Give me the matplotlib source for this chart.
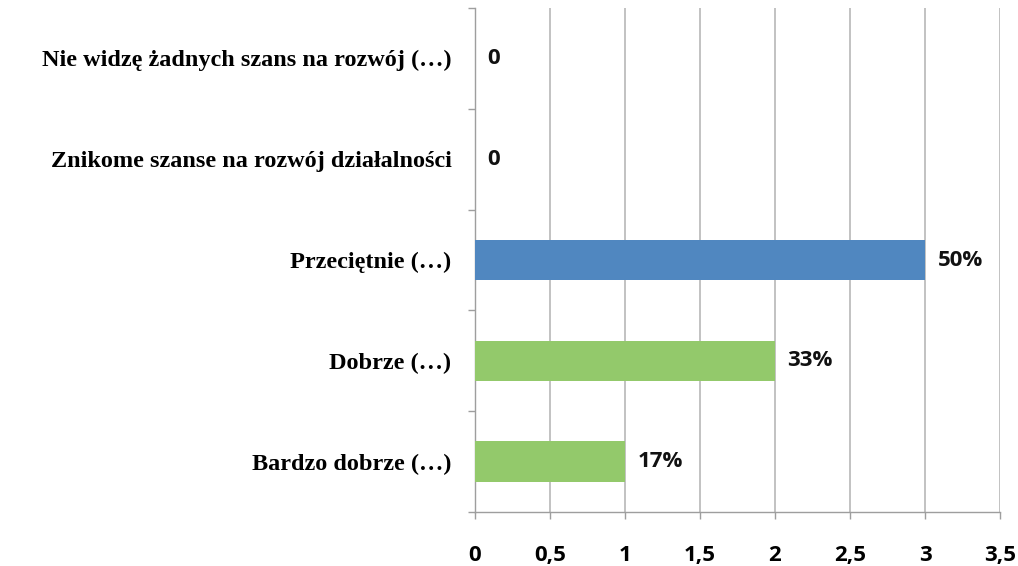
import matplotlib
matplotlib.use("Agg")
import matplotlib.pyplot as plt
from matplotlib.ticker import FixedLocator, FuncFormatter

categories = ["Bardzo dobrze (…)", "Dobrze (…)", "Przeciętnie (…)",
              "Znikome szanse na rozwój działalności",
              "Nie widzę żadnych szans na rozwój (…)"]
values = [1, 2, 3, 0, 0]
labels = ["17%", "33%", "50%", "0", "0"]
colors = ["#93C96B", "#93C96B", "#5087C0", "#93C96B", "#93C96B"]
xticks = [0, 0.5, 1, 1.5, 2, 2.5, 3, 3.5]

fig = plt.figure(figsize=(10.18, 5.66), dpi=100)
ax = fig.add_axes([475/1018, 1-512/566, 525/1018, 504/566])

y = list(range(len(categories)))
ax.barh(y, values, height=0.4, color=colors, zorder=3)
for yi, v, lab in zip(y, values, labels):
    ax.annotate(lab, (v, yi), xytext=(9, 0), textcoords="offset points",
                va="center", ha="left", fontsize=16, fontweight="bold",
                family=["Open Sans", "DejaVu Sans"], color="#111111")

ax.set_xlim(0, 3.5)
ax.set_ylim(-0.5, len(categories) - 0.5)
ax.set_xticks(xticks)
ax.xaxis.set_major_formatter(FuncFormatter(lambda v, p: f"{v:g}".replace(".", ",")))
ax.grid(axis="x", color="#BDBDBD", linewidth=1.3, zorder=0)
ax.set_yticks(y)
ax.set_yticklabels(categories)
ax.yaxis.set_minor_locator(FixedLocator([i - 0.5 for i in range(len(categories) + 1)]))
ax.tick_params(axis="y", which="major", length=0, pad=17)
ax.tick_params(axis="y", which="minor", length=5, color="#9E9E9E", width=1)
ax.tick_params(axis="x", length=5, color="#9E9E9E", width=1, pad=19)

for t in ax.get_yticklabels():
    t.set_fontfamily(["Liberation Serif", "DejaVu Serif"])
    t.set_fontweight("bold")
    t.set_fontsize(17.5)
for t in ax.get_xticklabels():
    t.set_fontfamily(["Open Sans", "DejaVu Sans"])
    t.set_fontweight("bold")
    t.set_fontsize(16)

for s in ["top", "right"]:
    ax.spines[s].set_visible(False)
for s in ["left", "bottom"]:
    ax.spines[s].set_color("#9E9E9E")
    ax.spines[s].set_linewidth(1)

fig.savefig("out.png", dpi=100)
